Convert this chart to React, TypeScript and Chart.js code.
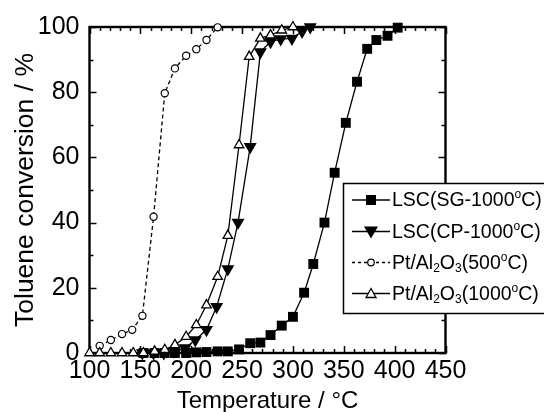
import React, { useEffect, useRef } from "react";
import { Chart, registerables } from "chart.js";

Chart.register(...registerables);

const FONT = "'Liberation Sans', Arial, sans-serif";

// LSC(SG-1000oC) – filled squares
const sgTemp = [153, 164, 174, 184, 195, 205, 215, 226, 236, 247, 258, 268, 278, 289, 300, 311, 320, 331, 341, 352, 363, 373, 382, 393, 403];
const sgConv = [0, 0, 0, 0, 0, 0.2, 0.3, 0.5, 0.5, 1.1, 3.0, 3.2, 5.5, 8.4, 11.1, 18.5, 27.3, 40, 55.3, 70.6, 83.2, 93.3, 96, 97.3, 99.8];

// LSC(CP-1000oC) – filled inverted triangles
const cpTemp = [152, 163, 173, 183, 194, 204, 215, 225, 236, 246, 258, 268, 278, 288, 299, 309, 317];
const cpConv = [0, 0, 0, 0.5, 1.5, 4, 7.1, 14.2, 25.8, 40, 63.3, 92.3, 95.5, 96.3, 96.5, 98.6, 100];

// Pt/Al2O3(500oC) – open circles, dashed
const pt500Temp = [110, 121, 132, 142, 152, 163, 174, 184, 195, 205, 215, 226];
const pt500Conv = [2.2, 4.0, 5.8, 7.1, 11.4, 41.8, 79.7, 87.3, 91.2, 93.2, 96.0, 99.9];

// Pt/Al2O3(1000oC) – open triangles
const pt1000Temp = [100, 110, 121, 132, 143, 153, 164, 174, 184, 195, 205, 215, 226, 236, 247, 257, 268, 278, 289, 300];
const pt1000Conv = [0, 0, 0, 0, 0, 0, 0.5, 1, 2.5, 5, 8.6, 14.7, 23.4, 36, 63.8, 90.9, 96.5, 97.5, 99, 100];

const xMin = 100;
const xMax = 450;
const xStep = 50;
const yMin = 0;
const yMax = 100;
const yStep = 20;

const xTitle = "Temperature / °C";
const yTitle = "Toluene conversion / %";

type Part = { t: string; s?: "sup" | "sub" };
const legendSG: Part[] = [{ t: "LSC(SG-1000" }, { t: "o", s: "sup" }, { t: "C)" }];
const legendCP: Part[] = [{ t: "LSC(CP-1000" }, { t: "o", s: "sup" }, { t: "C)" }];
const legendPt500: Part[] = [{ t: "Pt/Al" }, { t: "2", s: "sub" }, { t: "O" }, { t: "3", s: "sub" }, { t: "(500" }, { t: "o", s: "sup" }, { t: "C)" }];
const legendPt1000: Part[] = [{ t: "Pt/Al" }, { t: "2", s: "sub" }, { t: "O" }, { t: "3", s: "sub" }, { t: "(1000" }, { t: "o", s: "sup" }, { t: "C)" }];

const toXY = (xs: number[], ys: number[]) => xs.map((v, i) => ({ x: v, y: ys[i] }));

const framePlugin = {
  id: "frame",
  beforeDatasetsDraw(chart: any) {
    const { ctx, chartArea, scales } = chart;
    const { left, right, top, bottom } = chartArea;
    const x = scales.x;
    const y = scales.y;
    ctx.save();
    ctx.strokeStyle = "#000";
    ctx.lineWidth = 1.5;
    ctx.beginPath();
    for (let v = xMin; v <= xMax; v += 10) {
      const px = Math.round(x.getPixelForValue(v)) + 0.5;
      const len = v % 50 === 0 ? 7 : 4;
      ctx.moveTo(px, bottom);
      ctx.lineTo(px, bottom - len);
      ctx.moveTo(px, top);
      ctx.lineTo(px, top + len);
    }
    for (let v = yMin; v <= yMax; v += 10) {
      const py = Math.round(y.getPixelForValue(v)) + 0.5;
      const len = v % 20 === 0 ? 7 : 4;
      ctx.moveTo(left, py);
      ctx.lineTo(left + len, py);
      ctx.moveTo(right, py);
      ctx.lineTo(right - len, py);
    }
    ctx.stroke();
    ctx.lineWidth = 2.4;
    ctx.strokeRect(left, top, right - left, bottom - top);
    ctx.restore();
  },
};

function drawRich(ctx: CanvasRenderingContext2D, x: number, y: number, parts: Part[]) {
  let cx = x;
  for (const p of parts) {
    if (p.s) {
      ctx.font = `12px ${FONT}`;
      const dy = p.s === "sup" ? -6 : 5;
      ctx.fillText(p.t, cx, y + dy);
      cx += ctx.measureText(p.t).width;
    } else {
      ctx.font = `19.5px ${FONT}`;
      ctx.fillText(p.t, cx, y);
      cx += ctx.measureText(p.t).width;
    }
  }
}

const legendPlugin = {
  id: "customLegend",
  afterDraw(chart: any) {
    const ctx: CanvasRenderingContext2D = chart.ctx;
    ctx.save();
    const bx = 343.5;
    const by = 183.5;
    const bw = 210;
    const bh = 130;
    ctx.fillStyle = "#fff";
    ctx.fillRect(bx, by, bw, bh);
    ctx.strokeStyle = "#000";
    ctx.lineWidth = 1.5;
    ctx.strokeRect(bx, by, bw, bh);

    const rows = [
      { label: legendSG, marker: "square", dash: [] as number[] },
      { label: legendCP, marker: "invTri", dash: [] as number[] },
      { label: legendPt500, marker: "circle", dash: [3, 3] },
      { label: legendPt1000, marker: "tri", dash: [] as number[] },
    ];
    const rowY = [200, 231.5, 262.5, 293.5];
    const lx0 = 352;
    const lx1 = 390;
    const mx = 371;
    rows.forEach((r, i) => {
      const yy = rowY[i];
      ctx.strokeStyle = "#000";
      ctx.lineWidth = 1.3;
      ctx.setLineDash(r.dash);
      ctx.beginPath();
      ctx.moveTo(lx0, yy);
      ctx.lineTo(lx1, yy);
      ctx.stroke();
      ctx.setLineDash([]);
      ctx.beginPath();
      if (r.marker === "square") {
        ctx.fillStyle = "#000";
        ctx.fillRect(mx - 5, yy - 5, 10, 10);
      } else if (r.marker === "invTri") {
        ctx.fillStyle = "#000";
        ctx.moveTo(mx - 7, yy - 5);
        ctx.lineTo(mx + 7, yy - 5);
        ctx.lineTo(mx, yy + 7);
        ctx.closePath();
        ctx.fill();
      } else if (r.marker === "circle") {
        ctx.fillStyle = "#fff";
        ctx.lineWidth = 1.2;
        ctx.arc(mx, yy, 3.3, 0, Math.PI * 2);
        ctx.fill();
        ctx.stroke();
      } else {
        ctx.fillStyle = "#fff";
        ctx.lineWidth = 1.3;
        ctx.moveTo(mx, yy - 5);
        ctx.lineTo(mx + 5, yy + 4);
        ctx.lineTo(mx - 5, yy + 4);
        ctx.closePath();
        ctx.fill();
        ctx.stroke();
      }
      ctx.fillStyle = "#000";
      ctx.textBaseline = "middle";
      ctx.textAlign = "left";
      drawRich(ctx, 392, yy + 1, r.label);
    });
    ctx.restore();
  },
};

export default function App() {
  const canvasRef = useRef<HTMLCanvasElement | null>(null);

  useEffect(() => {
    if (!canvasRef.current) return;
    const chart = new Chart(canvasRef.current, {
      type: "scatter",
      data: {
        datasets: [
          {
            label: "Pt/Al2O3(1000oC)",
            data: toXY(pt1000Temp, pt1000Conv),
            showLine: true,
            borderColor: "#000",
            borderWidth: 1.3,
            pointStyle: "triangle",
            pointRadius: 5.5,
            pointBorderWidth: 1.3,
            pointBackgroundColor: "#fff",
            pointBorderColor: "#000",
            clip: false as any,
          },
          {
            label: "Pt/Al2O3(500oC)",
            data: toXY(pt500Temp, pt500Conv),
            showLine: true,
            borderColor: "#000",
            borderWidth: 1.3,
            borderDash: [4, 3],
            pointStyle: "circle",
            pointRadius: 3.6,
            pointBorderWidth: 1.2,
            pointBackgroundColor: "#fff",
            pointBorderColor: "#000",
            clip: false as any,
          },
          {
            label: "LSC(CP-1000oC)",
            data: toXY(cpTemp, cpConv),
            showLine: true,
            borderColor: "#000",
            borderWidth: 1.3,
            pointStyle: "triangle",
            rotation: 180,
            pointRadius: 7.5,
            pointBorderWidth: 0,
            pointBackgroundColor: "#000",
            pointBorderColor: "#000",
            clip: false as any,
          },
          {
            label: "LSC(SG-1000oC)",
            data: toXY(sgTemp, sgConv),
            showLine: true,
            borderColor: "#000",
            borderWidth: 1.3,
            pointStyle: "rect",
            pointRadius: 7,
            pointBorderWidth: 0,
            pointBackgroundColor: "#000",
            pointBorderColor: "#000",
            clip: false as any,
          },
        ],
      },
      options: {
        animation: false,
        responsive: false,
        maintainAspectRatio: false,
        devicePixelRatio: 1,
        layout: { padding: { top: 27, right: 98.5, left: 0, bottom: 0 } },
        plugins: {
          legend: { display: false },
          tooltip: { enabled: false },
        },
        scales: {
          x: {
            type: "linear",
            min: xMin,
            max: xMax,
            ticks: {
              stepSize: xStep,
              color: "#000",
              font: { family: FONT, size: 25 },
              padding: 3,
              maxRotation: 0,
            },
            grid: { display: false, drawTicks: false },
            border: { display: false },
            title: {
              display: true,
              text: xTitle,
              color: "#000",
              font: { family: FONT, size: 24, lineHeight: 1 },
              padding: { top: 0, bottom: -1 },
            },
            afterFit: (s: any) => {
              s.height = 59;
            },
          },
          y: {
            type: "linear",
            min: yMin,
            max: yMax,
            ticks: {
              stepSize: yStep,
              color: "#000",
              font: { family: FONT, size: 25 },
              padding: 10,
            },
            grid: { display: false, drawTicks: false },
            border: { display: false },
            title: {
              display: true,
              text: yTitle,
              color: "#000",
              font: { family: FONT, size: 26.5, lineHeight: 1 },
              padding: { top: 12, bottom: 0 },
            },
            afterFit: (s: any) => {
              s.width = 89.5;
            },
          },
        },
      },
      plugins: [framePlugin, legendPlugin],
    });
    return () => chart.destroy();
  }, []);

  return (
    <div style={{ position: "fixed", left: 0, top: 0, width: 544, height: 412, background: "#fff" }}>
      <canvas ref={canvasRef} width={544} height={412} style={{ width: 544, height: 412 }} />
    </div>
  );
}
